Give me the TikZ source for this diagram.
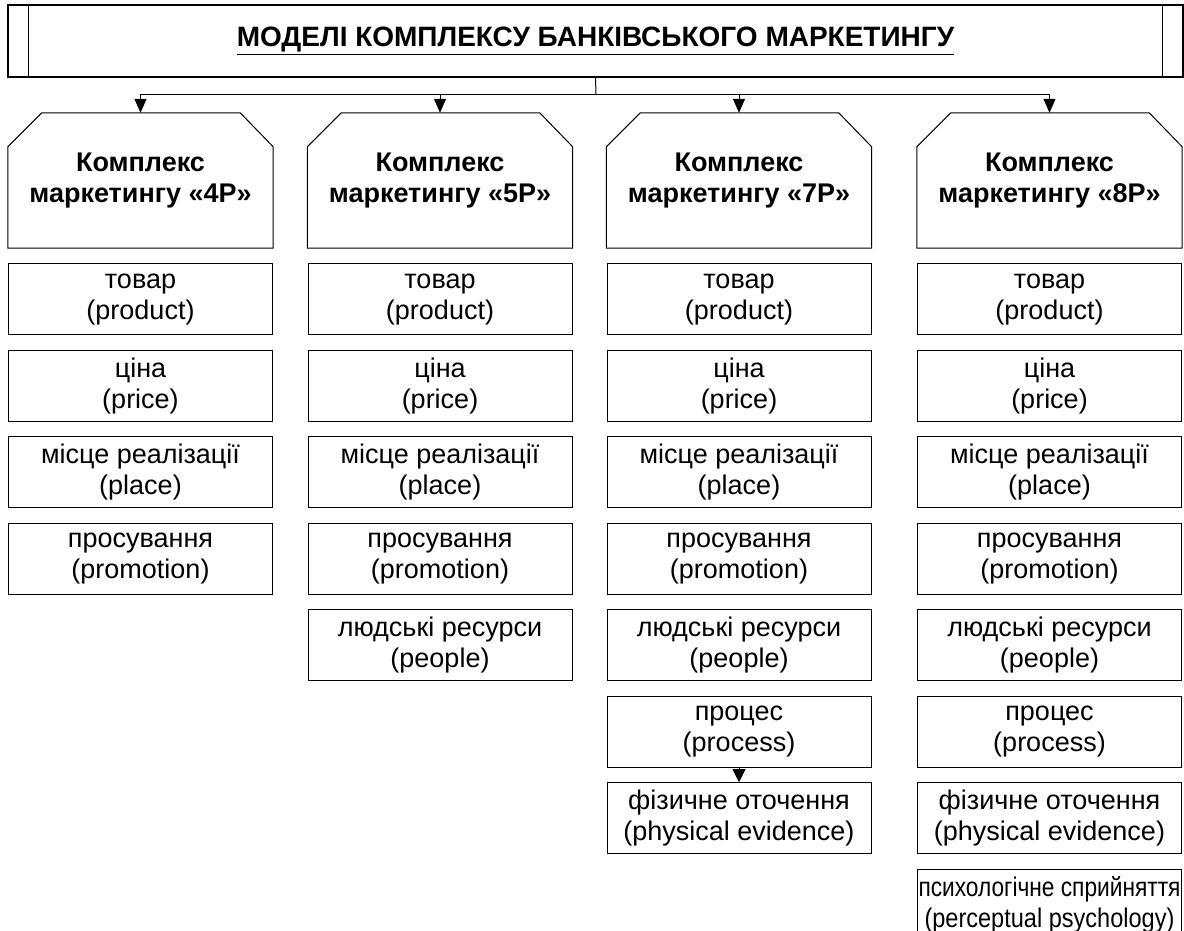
\documentclass[tikz,border=0pt]{standalone}
\usepackage{fontspec}
\setmainfont{Liberation Sans}
\usepackage{graphicx}
\usetikzlibrary{arrows.meta, positioning}
% header outline with cut top corners
\newcommand{\headframe}[1]{%
  \draw[line width=1pt] (#1.south west) -- ([yshift=-34pt]#1.north west)
    -- ([xshift=34pt]#1.north west) -- ([xshift=-33pt]#1.north east)
    -- ([yshift=-34pt]#1.north east) -- (#1.south east) -- cycle;}

\begin{document}
\begin{tikzpicture}[
    x=1pt, y=-1pt,
    every node/.style={font=\fontsize{27}{31}\selectfont, align=center, inner sep=0pt},
    item/.style={rectangle, draw, line width=1pt, minimum width=264pt, minimum height=71pt},
    head/.style={rectangle, minimum width=265pt, minimum height=135pt, font=\fontsize{27}{31}\selectfont\bfseries},
    arr/.style={-{Triangle[length=14pt,width=12pt]}, line width=1pt},
]
\useasboundingbox (0,0) rectangle (1184,931);

% Title banner
\node[rectangle, draw, line width=1.1pt, minimum width=1175pt, minimum height=72pt,
      font=\fontsize{28}{30}\selectfont\bfseries] (title) at (595.5,41) {\underline{МОДЕЛІ КОМПЛЕКСУ БАНКІВСЬКОГО МАРКЕТИНГУ}};
\draw[line width=1.1pt] ([xshift=21pt]title.north west) -- ([xshift=21pt]title.south west);
\draw[line width=1.1pt] ([xshift=-21pt]title.north east) -- ([xshift=-21pt]title.south east);

% Headers
\node[head] (h4) at (140.5,180.5) {Комплекс\\маркетингу «4Р»};
\node[head] (h5) at (440,180.5) {Комплекс\\маркетингу «5Р»};
\node[head] (h7) at (739,180.5) {Комплекс\\маркетингу «7Р»};
\node[head] (h8) at (1049.5,180.5) {Комплекс\\маркетингу «8Р»};
\headframe{h4}
\headframe{h5}
\headframe{h7}
\headframe{h8}

% Bus from the banner
\coordinate (bus) at (596,95);
\draw[line width=1pt] (title.south) -- (bus);
\draw[arr] (bus) -| (h4.north);
\draw[arr] (bus) -| (h5.north);
\draw[arr] (bus) -| (h7.north);
\draw[arr] (bus) -| (h8.north);

% 4P
\node[item, below=15pt of h4] (m4prod) {товар\\(product)};
\node[item, below=14.5pt of m4prod] (m4price) {ціна\\(price)};
\node[item, below=14.5pt of m4price] (m4place) {місце реалізації\\(place)};
\node[item, below=14.5pt of m4place] (m4promo) {просування\\(promotion)};

% 5P
\node[item, below=15pt of h5] (m5prod) {товар\\(product)};
\node[item, below=14.5pt of m5prod] (m5price) {ціна\\(price)};
\node[item, below=14.5pt of m5price] (m5place) {місце реалізації\\(place)};
\node[item, below=14.5pt of m5place] (m5promo) {просування\\(promotion)};
\node[item, below=14.5pt of m5promo] (m5people) {людські ресурси\\(people)};

% 7P
\node[item, below=15pt of h7] (m7prod) {товар\\(product)};
\node[item, below=14.5pt of m7prod] (m7price) {ціна\\(price)};
\node[item, below=14.5pt of m7price] (m7place) {місце реалізації\\(place)};
\node[item, below=14.5pt of m7place] (m7promo) {просування\\(promotion)};
\node[item, below=14.5pt of m7promo] (m7people) {людські ресурси\\(people)};
\node[item, below=14.5pt of m7people] (m7proc) {процес\\(process)};
\node[item, below=14.5pt of m7proc] (m7phys) {фізичне оточення\\(physical evidence)};
\draw[-{Triangle[length=13pt,width=13pt]}, line width=1pt] (m7proc) -- (m7phys);

% 8P
\node[item, below=15pt of h8] (m8prod) {товар\\(product)};
\node[item, below=14.5pt of m8prod] (m8price) {ціна\\(price)};
\node[item, below=14.5pt of m8price] (m8place) {місце реалізації\\(place)};
\node[item, below=14.5pt of m8place] (m8promo) {просування\\(promotion)};
\node[item, below=14.5pt of m8promo] (m8people) {людські ресурси\\(people)};
\node[item, below=14.5pt of m8people] (m8proc) {процес\\(process)};
\node[item, below=14.5pt of m8proc] (m8phys) {фізичне оточення\\(physical evidence)};
\node[item, below=14.5pt of m8phys] (m8psych) {\resizebox{262pt}{\height}{психологічне сприйняття}\\\resizebox{250pt}{\height}{(perceptual psychology)}};
\end{tikzpicture}
\end{document}
